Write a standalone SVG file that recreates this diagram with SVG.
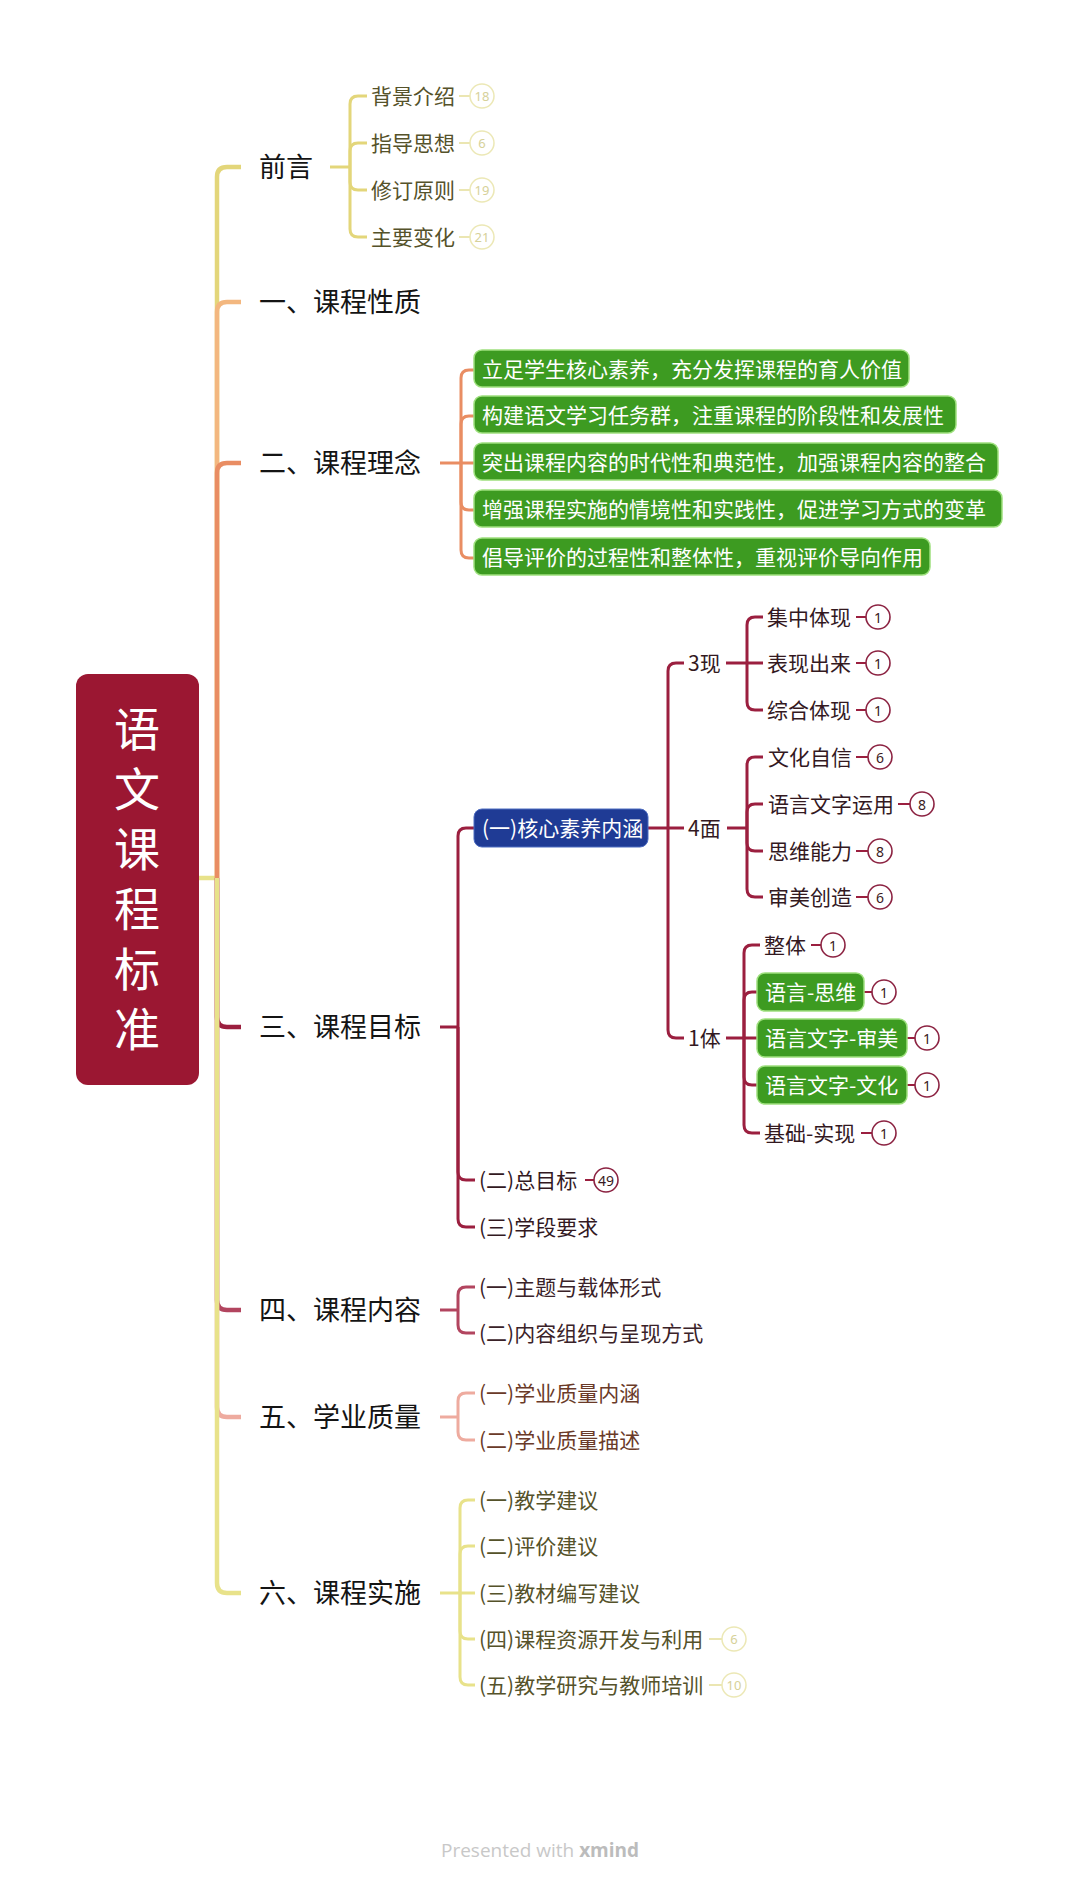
<svg xmlns="http://www.w3.org/2000/svg" width="1080" height="1887" viewBox="0 0 1080 1887">
<style>
text{font-family:"Noto Sans CJK SC","Noto Sans",sans-serif;dominant-baseline:central}
.t1{font-size:27px;fill:#141414}
.t2{font-size:21px}
.c0{fill:#55522a}
.c3{fill:#33191f}
.c4{fill:#3a2228}
.c5{fill:#6a3a28}
.wt{font-size:21px;fill:#ffffff}
.ln{fill:none;stroke-width:4.5}
.sl{fill:none;stroke-width:3}
.bl{fill:none;stroke-width:2}
.gy{fill:#3d9b21;stroke:#9ee07e;stroke-width:1.5}
.bf{fill:#ffffff;stroke:#ece8b6;stroke-width:1.5}
.bft{font-family:"Noto Sans","Liberation Sans",sans-serif;font-size:13px;fill:#d6d199;text-anchor:middle}
.br{fill:#ffffff;stroke:#8c2342;stroke-width:1.6}
.brt{font-family:"Noto Sans","Liberation Sans",sans-serif;font-size:14px;fill:#3a1a22;text-anchor:middle}
.yel{stroke:#e3d67a}
.pea{stroke:#f3b77f}
.ora{stroke:#e98d63}
.dr{stroke:#9b1f3f}
.rd{stroke:#b2455f}
.pk{stroke:#eeab9f}
.ye6{stroke:#e8e28a}
.fy{stroke:#ebe6b2}
</style>
<rect width="1080" height="1887" fill="#ffffff"/>

<g id="connectors">
  <path class="ln ye6" d="M199,878 H217"/>
  <path class="ln yel" d="M217,878 V177 Q217,167 227,167 H241"/>
  <path class="ln pea" d="M217,878 V312 Q217,302 227,302 H241"/>
  <path class="ln ora" d="M217,878 V473 Q217,463 227,463 H241"/>
  <path class="ln dr" d="M217,878 V1017 Q217,1027 227,1027 H241"/>
  <path class="ln rd" d="M217,878 V1300 Q217,1310 227,1310 H241"/>
  <path class="ln pk" d="M217,878 V1407 Q217,1417 227,1417 H241"/>
  <path class="ln ye6" d="M217,878 V1583 Q217,1593 227,1593 H241"/>

  <g class="sl yel">
    <path d="M330,167 H350"/>
    <path d="M350,167 V104 Q350,96 358,96 H367"/>
    <path d="M350,167 V151 Q350,143 358,143 H367"/>
    <path d="M350,167 V182 Q350,190 358,190 H367"/>
    <path d="M350,167 V229 Q350,237 358,237 H367"/>
  </g>
  <g class="bl fy">
    <path d="M459,96 H470"/><path d="M459,143 H470"/><path d="M459,190 H470"/><path d="M459,237 H470"/>
  </g>

  <g class="sl ora">
    <path d="M440,463 H461"/>
    <path d="M461,463 V378 Q461,370 469,370 H474"/>
    <path d="M461,463 V424 Q461,416 469,416 H474"/>
    <path d="M461,463 H474"/>
    <path d="M461,463 V502 Q461,510 469,510 H474"/>
    <path d="M461,463 V550 Q461,558 469,558 H474"/>
  </g>

  <g class="sl dr">
    <path d="M440,1027 H458"/>
    <path d="M458,1027 V836 Q458,828 466,828 H474"/>
    <path d="M458,1027 V1172 Q458,1180 466,1180 H475"/>
    <path d="M458,1027 V1219 Q458,1227 466,1227 H475"/>
    <path d="M647,828 H668"/>
    <path d="M668,828 V671 Q668,663 676,663 H684"/>
    <path d="M668,828 H684"/>
    <path d="M668,828 V1030 Q668,1038 676,1038 H684"/>
    <path d="M726,663 H747"/>
    <path d="M747,663 V625 Q747,617 755,617 H763"/>
    <path d="M747,663 H763"/>
    <path d="M747,663 V702 Q747,710 755,710 H763"/>
    <path d="M727,828 H747"/>
    <path d="M747,828 V765 Q747,757 755,757 H763"/>
    <path d="M747,828 V812 Q747,804 755,804 H763"/>
    <path d="M747,828 V843 Q747,851 755,851 H763"/>
    <path d="M747,828 V889 Q747,897 755,897 H763"/>
    <path d="M726,1038 H744"/>
    <path d="M744,1038 V953 Q744,945 752,945 H760"/>
    <path d="M744,1038 V1000 Q744,992 752,992 H758"/>
    <path d="M744,1038 H758"/>
    <path d="M744,1038 V1077 Q744,1085 752,1085 H758"/>
    <path d="M744,1038 V1125 Q744,1133 752,1133 H760"/>
  </g>
  <g class="bl dr">
    <path d="M585,1180 H594"/>
    <path d="M856,617 H866"/><path d="M856,663 H866"/><path d="M856,710 H866"/>
    <path d="M856,757 H868"/><path d="M898,804 H910"/><path d="M856,851 H868"/><path d="M856,897 H868"/>
    <path d="M811,945 H821"/><path d="M864,992 H872"/><path d="M907,1038 H915"/><path d="M907,1085 H915"/><path d="M861,1133 H872"/>
  </g>

  <g class="sl rd">
    <path d="M440,1310 H458"/>
    <path d="M458,1310 V1295 Q458,1287 466,1287 H475"/>
    <path d="M458,1310 V1325 Q458,1333 466,1333 H475"/>
  </g>
  <g class="sl pk">
    <path d="M440,1417 H458"/>
    <path d="M458,1417 V1401 Q458,1393 466,1393 H475"/>
    <path d="M458,1417 V1432 Q458,1440 466,1440 H475"/>
  </g>
  <g class="sl ye6">
    <path d="M440,1593 H460"/>
    <path d="M460,1593 V1508 Q460,1500 468,1500 H475"/>
    <path d="M460,1593 V1554 Q460,1546 468,1546 H475"/>
    <path d="M460,1593 H475"/>
    <path d="M460,1593 V1631 Q460,1639 468,1639 H475"/>
    <path d="M460,1593 V1677 Q460,1685 468,1685 H475"/>
  </g>
  <g class="bl fy">
    <path d="M709,1639 H722"/><path d="M709,1685 H722"/>
  </g>
</g>

<g id="root">
  <rect x="76" y="674" width="123" height="411" rx="12" fill="#9b1732"/>
  <text font-size="46" fill="#ffffff" text-anchor="middle">
    <tspan x="137" y="726">语</tspan><tspan x="137" y="786">文</tspan><tspan x="137" y="846">课</tspan><tspan x="137" y="906">程</tspan><tspan x="137" y="966">标</tspan><tspan x="137" y="1026">准</tspan>
  </text>
</g>

<g id="qianyan"><text class="t1" x="259" y="165">前言</text></g>
<g id="qy1"><text class="t2 c0" x="371" y="95">背景介绍</text><circle class="bf" cx="482" cy="96" r="12"/><text class="bft" x="482" y="96">18</text></g>
<g id="qy2"><text class="t2 c0" x="371" y="142">指导思想</text><circle class="bf" cx="482" cy="143" r="12"/><text class="bft" x="482" y="143">6</text></g>
<g id="qy3"><text class="t2 c0" x="371" y="189">修订原则</text><circle class="bf" cx="482" cy="190" r="12"/><text class="bft" x="482" y="190">19</text></g>
<g id="qy4"><text class="t2 c0" x="371" y="236">主要变化</text><circle class="bf" cx="482" cy="237" r="12"/><text class="bft" x="482" y="237">21</text></g>

<g id="b1"><text class="t1" x="259" y="300">一、课程性质</text></g>

<g id="b2"><text class="t1" x="259" y="461">二、课程理念</text></g>
<g id="b2-1"><rect class="gy" x="474" y="350" width="435" height="37" rx="8"/><text class="wt" x="482" y="368">立足学生核心素养，充分发挥课程的育人价值</text></g>
<g id="b2-2"><rect class="gy" x="474" y="396" width="482" height="37" rx="8"/><text class="wt" x="482" y="414">构建语文学习任务群，注重课程的阶段性和发展性</text></g>
<g id="b2-3"><rect class="gy" x="474" y="443" width="524" height="37" rx="8"/><text class="wt" x="482" y="461">突出课程内容的时代性和典范性，加强课程内容的整合</text></g>
<g id="b2-4"><rect class="gy" x="474" y="490" width="528" height="37" rx="8"/><text class="wt" x="482" y="508">增强课程实施的情境性和实践性，促进学习方式的变革</text></g>
<g id="b2-5"><rect class="gy" x="474" y="538" width="456" height="37" rx="8"/><text class="wt" x="482" y="556">倡导评价的过程性和整体性，重视评价导向作用</text></g>

<g id="b3"><text class="t1" x="259" y="1025">三、课程目标</text></g>
<g id="b3-1"><rect x="474" y="809" width="174" height="38" rx="8" fill="#1f3b95" stroke="#4d6cc0" stroke-width="1"/><text class="wt" x="482" y="827">(一)核心素养内涵</text></g>
<g id="xian3"><text class="t2 c3" x="688" y="662">3现</text></g>
<g id="x1"><text class="t2 c3" x="767" y="616">集中体现</text><circle class="br" cx="878" cy="617" r="12"/><text class="brt" x="878" y="617">1</text></g>
<g id="x2"><text class="t2 c3" x="767" y="662">表现出来</text><circle class="br" cx="878" cy="663" r="12"/><text class="brt" x="878" y="663">1</text></g>
<g id="x3"><text class="t2 c3" x="767" y="709">综合体现</text><circle class="br" cx="878" cy="710" r="12"/><text class="brt" x="878" y="710">1</text></g>
<g id="mian4"><text class="t2 c3" x="688" y="827">4面</text></g>
<g id="m1"><text class="t2 c3" x="768" y="756">文化自信</text><circle class="br" cx="880" cy="757" r="12"/><text class="brt" x="880" y="757">6</text></g>
<g id="m2"><text class="t2 c3" x="768" y="803">语言文字运用</text><circle class="br" cx="922" cy="804" r="12"/><text class="brt" x="922" y="804">8</text></g>
<g id="m3"><text class="t2 c3" x="768" y="850">思维能力</text><circle class="br" cx="880" cy="851" r="12"/><text class="brt" x="880" y="851">8</text></g>
<g id="m4"><text class="t2 c3" x="768" y="896">审美创造</text><circle class="br" cx="880" cy="897" r="12"/><text class="brt" x="880" y="897">6</text></g>
<g id="ti1"><text class="t2 c3" x="688" y="1037">1体</text></g>
<g id="t1"><text class="t2 c3" x="764" y="944">整体</text><circle class="br" cx="833" cy="945" r="12"/><text class="brt" x="833" y="945">1</text></g>
<g id="t2"><rect class="gy" x="757" y="973" width="107" height="38" rx="8"/><text class="wt" x="765" y="991">语言-思维</text><circle class="br" cx="884" cy="992" r="12"/><text class="brt" x="884" y="992">1</text></g>
<g id="t3"><rect class="gy" x="757" y="1019" width="150" height="38" rx="8"/><text class="wt" x="765" y="1037">语言文字-审美</text><circle class="br" cx="927" cy="1038" r="12"/><text class="brt" x="927" y="1038">1</text></g>
<g id="t4"><rect class="gy" x="757" y="1066" width="150" height="38" rx="8"/><text class="wt" x="765" y="1084">语言文字-文化</text><circle class="br" cx="927" cy="1085" r="12"/><text class="brt" x="927" y="1085">1</text></g>
<g id="t5"><text class="t2 c3" x="764" y="1132">基础-实现</text><circle class="br" cx="884" cy="1133" r="12"/><text class="brt" x="884" y="1133">1</text></g>
<g id="b3-2"><text class="t2 c3" x="479" y="1179">(二)总目标</text><circle class="br" cx="606" cy="1180" r="12"/><text class="brt" x="606" y="1180">49</text></g>
<g id="b3-3"><text class="t2 c3" x="479" y="1226">(三)学段要求</text></g>

<g id="b4"><text class="t1" x="259" y="1308">四、课程内容</text></g>
<g id="b4-1"><text class="t2 c4" x="479" y="1286">(一)主题与载体形式</text></g>
<g id="b4-2"><text class="t2 c4" x="479" y="1332">(二)内容组织与呈现方式</text></g>

<g id="b5"><text class="t1" x="259" y="1415">五、学业质量</text></g>
<g id="b5-1"><text class="t2 c5" x="479" y="1392">(一)学业质量内涵</text></g>
<g id="b5-2"><text class="t2 c5" x="479" y="1439">(二)学业质量描述</text></g>

<g id="b6"><text class="t1" x="259" y="1591">六、课程实施</text></g>
<g id="b6-1"><text class="t2 c0" x="479" y="1499">(一)教学建议</text></g>
<g id="b6-2"><text class="t2 c0" x="479" y="1545">(二)评价建议</text></g>
<g id="b6-3"><text class="t2 c0" x="479" y="1592">(三)教材编写建议</text></g>
<g id="b6-4"><text class="t2 c0" x="479" y="1638">(四)课程资源开发与利用</text><circle class="bf" cx="734" cy="1639" r="12"/><text class="bft" x="734" y="1639">6</text></g>
<g id="b6-5"><text class="t2 c0" x="479" y="1684">(五)教学研究与教师培训</text><circle class="bf" cx="734" cy="1685" r="12"/><text class="bft" x="734" y="1685">10</text></g>

<g id="footer">
  <text x="441" y="1850" font-size="19" fill="#c8c8c8" style="font-family:'Open Sans','Noto Sans',sans-serif">Presented with <tspan font-weight="bold" fill="#bcbcbc">xmind</tspan></text>
</g>
</svg>
